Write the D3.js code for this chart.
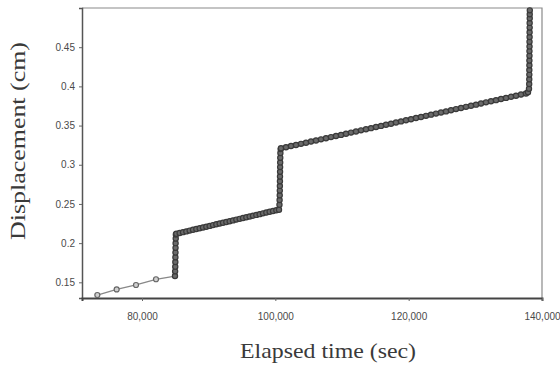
<!DOCTYPE html>
<html lang="en">
<head>
<meta charset="utf-8">
<title>displacement</title>
<script src="https://cdn.jsdelivr.net/npm/d3@7"></script>
<style>
  body { margin: 0; background: #fff; }
  .tick text { font-family: "Liberation Sans", Arial, sans-serif; font-size: 10px; fill: #4a4a4a; }
  .title { font-family: "Liberation Serif", "Times New Roman", serif; fill: #3a3a3a; }
</style>
</head>
<body>
<div id="chart"></div>
<script>
// elapsed time (sec) and displacement (cm)
var timeSparse = [73300, 76200, 79100, 82100]
var dispSparse = [0.1338, 0.141, 0.1466, 0.1539]

var timeJump1 = [84950, 84970, 84990, 85000, 85010, 85020, 85030, 85040, 85060, 85080]
var dispJump1 = [0.158, 0.164, 0.170, 0.176, 0.182, 0.188, 0.194, 0.200, 0.206, 0.211]

var timeRise1 = [85150, 85650, 86150, 86650, 87150, 87650, 88150, 88650, 89150, 89650,
  90150, 90650, 91150, 91650, 92150, 92650, 93150, 93650, 94150, 94650,
  95150, 95650, 96150, 96650, 97150, 97650, 98150, 98650, 99150, 99650, 100150, 100550]
var dispRise1 = [0.212, 0.213, 0.214, 0.215, 0.216, 0.217, 0.218, 0.219, 0.220, 0.221,
  0.222, 0.223, 0.224, 0.225, 0.226, 0.227, 0.228, 0.229, 0.230, 0.231,
  0.232, 0.233, 0.234, 0.235, 0.236, 0.237, 0.238, 0.239, 0.240, 0.241, 0.242, 0.2425]

var timeJump2 = [100620, 100640, 100660, 100670, 100680, 100690, 100700, 100710, 100720, 100730, 100740, 100760, 100800]
var dispJump2 = [0.249, 0.255, 0.261, 0.267, 0.273, 0.279, 0.285, 0.291, 0.297, 0.303, 0.309, 0.315, 0.320]

var timeRise2 = [100850, 101600, 102350, 103100, 103850, 104600, 105350, 106100, 106850, 107600,
  108350, 109100, 109850, 110600, 111350, 112100, 112850, 113600, 114350, 115100,
  115850, 116600, 117350, 118100, 118850, 119600, 120350, 121100, 121850, 122600,
  123350, 124100, 124850, 125600, 126350, 127100, 127850, 128600, 129350, 130100,
  130850, 131600, 132350, 133100, 133850, 134600, 135350, 136100, 136850, 137600, 137900]
var dispRise2 = [0.3210, 0.3224, 0.3239, 0.3253, 0.3267, 0.3281, 0.3296, 0.3310, 0.3324, 0.3339,
  0.3353, 0.3367, 0.3381, 0.3396, 0.3410, 0.3424, 0.3439, 0.3453, 0.3467, 0.3481,
  0.3496, 0.3510, 0.3524, 0.3539, 0.3553, 0.3567, 0.3581, 0.3596, 0.3610, 0.3624,
  0.3639, 0.3653, 0.3667, 0.3681, 0.3696, 0.3710, 0.3724, 0.3739, 0.3753, 0.3767,
  0.3781, 0.3796, 0.3810, 0.3824, 0.3839, 0.3853, 0.3867, 0.3881, 0.3896, 0.3910, 0.3925]

var timeJump3 = [138050, 138080, 138090, 138100, 138100, 138110, 138110, 138120, 138120, 138130,
  138130, 138140, 138140, 138150, 138150, 138160, 138160, 138170]
var dispJump3 = [0.397, 0.403, 0.409, 0.415, 0.421, 0.427, 0.433, 0.439, 0.445, 0.451,
  0.457, 0.463, 0.469, 0.475, 0.481, 0.487, 0.492, 0.497]

var xTicks = [80000, 100000, 120000, 140000]
var yTicks = [0.15, 0.2, 0.25, 0.3, 0.35, 0.4, 0.45]

var W = 560, H = 368
var mLeft = 82, mRight = 542, mTop = 8, mBottom = 298

var dense = [].concat(timeJump1, timeRise1, timeJump2, timeRise2, timeJump3)
  .map(function(t, i){
    return {t: t, d: [].concat(dispJump1, dispRise1, dispJump2, dispRise2, dispJump3)[i]}
  })
var sparse = timeSparse.map(function(t, i){ return {t: t, d: dispSparse[i]} })
var data = sparse.concat(dense)

var x = d3.scaleLinear().domain([71000, 140000]).range([mLeft, mRight])
var y = d3.scaleLinear().domain([0.13, 0.50]).range([mBottom, mTop])

var svg = d3.select("#chart").append("svg")
  .attr("width", W)
  .attr("height", H)

// frame (top and right)
svg.append("path")
  .attr("d", "M" + mLeft + "," + mTop + "H" + mRight + "V" + mBottom)
  .attr("fill", "none")
  .attr("stroke", "#8a8a8a")
  .attr("stroke-width", 1.2)

var yAxis = d3.axisLeft(y).tickValues(yTicks).tickSize(3).tickPadding(4)
  .tickFormat(function(d){ return String(+d.toFixed(2)) })
var yg = svg.append("g")
  .attr("transform", "translate(" + mLeft + ",0)")
  .call(yAxis)
yg.select(".domain").attr("stroke", "#555").attr("stroke-width", 1.5)
yg.selectAll(".tick line").attr("stroke", "#666")

var xAxis = d3.axisBottom(x).tickValues(xTicks).tickSize(3).tickPadding(12)
  .tickFormat(d3.format(",d"))
var xg = svg.append("g")
  .attr("transform", "translate(0," + mBottom + ")")
  .call(xAxis)
xg.select(".domain").attr("stroke", "#444").attr("stroke-width", 2)
xg.selectAll(".tick line").attr("stroke", "#666")

// connecting line
var line = d3.line()
  .x(function(d){ return x(d.t) })
  .y(function(d){ return y(d.d) })

svg.append("path")
  .datum(sparse.concat(dense.slice(0, 1)))
  .attr("d", line)
  .attr("fill", "none")
  .attr("stroke", "#888")
  .attr("stroke-width", 1.3)

svg.append("path")
  .datum(dense)
  .attr("d", line)
  .attr("fill", "none")
  .attr("stroke", "#3a3a3a")
  .attr("stroke-width", 4)
  .attr("stroke-linejoin", "round")

// markers
svg.selectAll("circle.sparse")
  .data(sparse)
  .enter()
  .append("circle")
  .attr("class", "sparse")
  .attr("cx", function(d){ return x(d.t) })
  .attr("cy", function(d){ return y(d.d) })
  .attr("r", 2.5)
  .attr("fill", "#d0d0d0")
  .attr("stroke", "#666")
  .attr("stroke-width", 1.2)

svg.selectAll("circle.dense")
  .data(dense)
  .enter()
  .append("circle")
  .attr("class", "dense")
  .attr("cx", function(d){ return x(d.t) })
  .attr("cy", function(d){ return y(d.d) })
  .attr("r", 2.6)
  .attr("fill", "#6a6a6a")
  .attr("stroke", "#3a3a3a")
  .attr("stroke-width", 1.2)

// axis titles
svg.append("text")
  .attr("class", "title")
  .attr("transform", "translate(25,141) rotate(-90)")
  .attr("text-anchor", "middle")
  .attr("textLength", 198)
  .attr("lengthAdjust", "spacingAndGlyphs")
  .style("font-size", "21px")
  .text("Displacement (cm)")

svg.append("text")
  .attr("class", "title")
  .attr("x", 328)
  .attr("y", 358)
  .attr("text-anchor", "middle")
  .attr("textLength", 176)
  .attr("lengthAdjust", "spacingAndGlyphs")
  .style("font-size", "21px")
  .text("Elapsed time (sec)")
</script>
</body>
</html>
